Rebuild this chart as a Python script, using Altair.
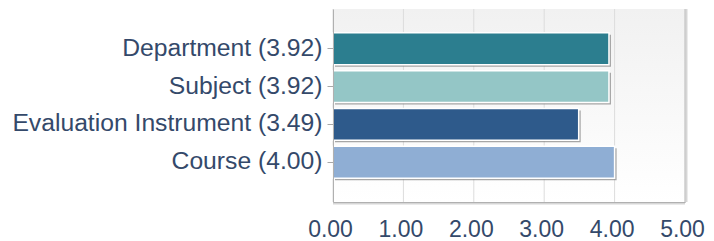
import altair as alt
import pandas as pd

categories = ["Department (3.92)", "Subject (3.92)", "Evaluation Instrument (3.49)", "Course (4.00)"]
values = [3.92, 3.92, 3.49, 4.00]
colors = ["#2c7e8f", "#94c6c6", "#2e5a8b", "#8faed4"]
tick_values = [0, 1, 2, 3, 4, 5]
x_min = 0.0
x_max = 5.0

df = pd.DataFrame({"cat": categories, "val": values, "col": colors})

FONT = "Liberation Sans"
LABEL = "#34496a"
xscale = alt.Scale(domain=[x_min, x_max], nice=False)

y_enc = alt.Y("cat:N", sort=categories, title=None,
              scale=alt.Scale(paddingInner=0.16, paddingOuter=0.63),
              axis=alt.Axis(labelFont=FONT, labelFontSize=24.7, labelColor=LABEL,
                            tickSize=6, tickColor="#a8a8a8", domainColor="#b0b0b0",
                            labelPadding=5, labelLimit=400, zindex=1))
x_enc = alt.X("val:Q", title=None, scale=xscale,
              axis=alt.Axis(values=tick_values, format=".2f", grid=False,
                            labelFont=FONT, labelFontSize=23, labelColor=LABEL,
                            ticks=False, tickSize=0, labelPadding=16, labelOffset=-3,
                            domainColor="#b0b0b0", labelFlush=False, zindex=1))

bg_df = pd.DataFrame({"a": [x_min], "b": [x_max]})
background = alt.Chart(bg_df).mark_rect(
    color=alt.LinearGradient(
        gradient="linear", x1=0, y1=0, x2=0, y2=1,
        stops=[alt.GradientStop(offset=0, color="#f1f1f1"),
               alt.GradientStop(offset=1, color="#ffffff")])
).encode(x=alt.X("a:Q", scale=xscale), x2="b:Q",
         y=alt.value(0), y2=alt.value("height"))

grid = alt.Chart(pd.DataFrame({"t": tick_values})).mark_rule(
    color="#dcdcdc", strokeWidth=1).encode(x="t:Q")

base = alt.Chart(df)

shadow = base.mark_bar(color="#8a8a8a", opacity=0.75, xOffset=2, yOffset=2).encode(
    x=x_enc, y=y_enc)

bars = base.mark_bar(stroke="white", strokeWidth=1.5).encode(
    x="val:Q", y=alt.Y("cat:N", sort=categories),
    color=alt.Color("col:N", scale=None))

edge_df = pd.DataFrame({"v": [x_max]})
frame_shadow = alt.Chart(edge_df).mark_rule(
    color="#d6d6d6", strokeWidth=2, xOffset=1.5).encode(x="v:Q")
frame = alt.Chart(edge_df).mark_rule(
    color="#c4c4c4", strokeWidth=1).encode(x="v:Q")
bottom_shadow = alt.Chart(bg_df).mark_rule(
    color="#d6d6d6", strokeWidth=2, yOffset=1.5).encode(
    x="a:Q", x2="b:Q", y=alt.value("height"))

chart = alt.layer(background, grid, shadow, bars, frame_shadow, frame, bottom_shadow).properties(
    width=352, height=193,
    autosize=alt.AutoSizeParams(type="none"),
    padding={"left": 325, "top": 1, "right": 21, "bottom": 37},
).configure_view(
    stroke=None,
).configure(background="white")

chart.save("out.html", embed_options={"renderer": "svg", "actions": False})
